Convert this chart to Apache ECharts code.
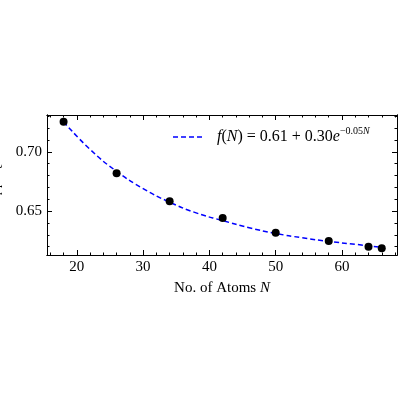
<!DOCTYPE html>
<html><head><meta charset="utf-8">
<script src="https://cdn.jsdelivr.net/npm/echarts@6/dist/echarts.min.js"></script>
<style>html,body{margin:0;padding:0;background:#fff}#c{width:400px;height:400px}</style>
</head><body><div id="c"></div>
<script>
const atomsN = [18, 26, 34, 42, 50, 58, 64, 66];
const ratio = [0.7253, 0.6818, 0.6584, 0.6441, 0.6318, 0.6247, 0.6200, 0.6186];
const fitN = [18, 22, 26, 30, 34, 38, 42, 46, 50, 54, 58, 62, 66];
const fitV = [0.7253, 0.7020, 0.6835, 0.6690, 0.6575, 0.6485, 0.6420, 0.6360, 0.6312, 0.6275, 0.6245, 0.6220, 0.6195];
const xMajor = [20, 30, 40, 50, 60];
const xMinor = [16, 18, 22, 24, 26, 28, 32, 34, 36, 38, 42, 44, 46, 48, 52, 54, 56, 58, 62, 64, 66, 68];
const yMajor = [0.65, 0.70];
const yMinor = [0.62, 0.63, 0.64, 0.66, 0.67, 0.68, 0.69, 0.71, 0.72, 0.73];
const F = '"Liberation Serif","DejaVu Serif",serif';
const chart = echarts.init(document.getElementById('c'));
const line = {show: true, lineStyle: {color: '#000', width: 1}};
function xa(pos, vals, len, labels, name) {
  return {type: 'value', min: 15.5, max: 68.3, position: pos, axisLine: line,
    splitLine: {show: false},
    axisTick: {show: true, inside: true, length: len, customValues: vals, lineStyle: {color: '#000'}},
    axisLabel: labels ? {show: true, customValues: vals, fontFamily: F, fontSize: 15, color: '#000', margin: 5} : {show: false},
    name: name || '', nameLocation: 'middle', nameGap: 26,
    nameTextStyle: {fontFamily: F, fontSize: 15, color: '#000', rich: {n: {fontFamily: F, fontSize: 15}, i: {fontStyle: 'italic', fontFamily: F, fontSize: 15}}}};
}
function ya(pos, vals, len, labels, name) {
  return {type: 'value', min: 0.613, max: 0.731, position: pos, axisLine: line,
    splitLine: {show: false},
    axisTick: {show: true, inside: true, length: len, customValues: vals, lineStyle: {color: '#000'}},
    axisLabel: labels ? {show: true, customValues: vals, fontFamily: F, fontSize: 15, color: '#000', margin: 5, formatter: v => v.toFixed(2)} : {show: false},
    name: name || '', nameLocation: 'middle', nameGap: 32, nameRotate: 90,
    nameTextStyle: {fontFamily: F, fontSize: 15, color: '#000',
      rich: {n: {fontFamily: F, fontSize: 15}, s: {fontFamily: F, fontSize: 10, padding: [8, 0, 0, 0]}, i: {fontStyle: 'italic', fontSize: 10, fontFamily: F, padding: [8, 0, 0, 0]}}}};
}
chart.setOption({
  animation: false,
  grid: {left: 47, right: 3, top: 115, bottom: 145, containLabel: false, outerBoundsMode: 'none'},
  xAxis: [xa('bottom', xMajor, 5, true, '{n|No. of Atoms }{i|N}'), xa('bottom', xMinor, 2.5, false),
          xa('top', xMajor, 5, false), xa('top', xMinor, 2.5, false)],
  yAxis: [ya('left', yMajor, 5, true, '{n|Ω}{s|PT}{n|/Ω}{i|c}'), ya('left', yMinor, 2.5, false),
          ya('right', yMajor, 5, false), ya('right', yMinor, 2.5, false)],
  graphic: [
    {type: 'line', shape: {x1: 173, y1: 137, x2: 204, y2: 137}, style: {stroke: '#0000ff', lineWidth: 1.5, lineDash: [5, 3]}},
    {type: 'text', x: 217, y: 137, style: {text: '{i|f}(N) = 0.61 + 0.30{i|e}{sup|−0.05}{supi|N}'.replace('(N)', '({i|N})'),
      verticalAlign: 'middle', fontFamily: F, fontSize: 16, fill: '#000',
      rich: {i: {fontStyle: 'italic', fontFamily: F, fontSize: 16},
        sup: {fontFamily: F, fontSize: 10, padding: [0, 0, 12, 0]},
        supi: {fontFamily: F, fontSize: 10, fontStyle: 'italic', padding: [0, 0, 12, 0]}}}}
  ],
  series: [
    {name: 'fit', type: 'line', smooth: true, showSymbol: false, symbol: 'none', z: 2,
     data: fitN.map((n, i) => [n, fitV[i]]),
     lineStyle: {color: '#0000ff', width: 1.5, type: [5, 3]}},
    {name: 'data', type: 'scatter', symbolSize: 8, z: 3,
     data: atomsN.map((n, i) => [n, ratio[i]]), itemStyle: {color: '#000', opacity: 1}}
  ]
});
</script></body></html>
